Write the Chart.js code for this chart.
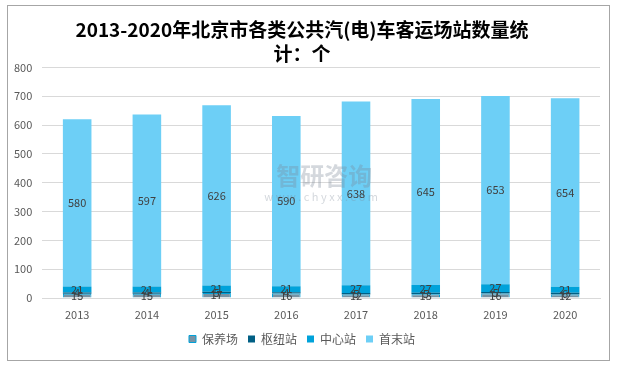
<!DOCTYPE html>
<html>
<head>
<meta charset="utf-8">
<script src="https://cdn.jsdelivr.net/npm/chart.js@4.4.0/dist/chart.umd.min.js"></script>
<style>
  body { margin: 0; background: #fff; }
  .frame { position: absolute; left: 7px; top: 5px; width: 601px; height: 354px; border: 1px solid #a6a6a6; }
  canvas { position: absolute; left: 0; top: 0; }
</style>
</head>
<body>
<div class="frame"></div>
<canvas class="main-canvas" width="620" height="366"></canvas>
<script>
const years = ["2013", "2014", "2015", "2016", "2017", "2018", "2019", "2020"];
const baoyang = [15, 15, 17, 16, 12, 13, 16, 12];
const shuniu = [4, 4, 5, 4, 5, 5, 5, 6];
const zhongxin = [21, 21, 21, 21, 27, 27, 27, 21];
const shoumo = [580, 597, 626, 590, 638, 645, 653, 654];
const yTicks = [0, 100, 200, 300, 400, 500, 600, 700, 800];

const FONT = "'Noto Sans CJK SC', 'Noto Sans', sans-serif";

// faint watermark + value labels in the middle of each segment
const valueLabels = {
  id: "valueLabels",
  afterDatasetsDraw(chart) {
    const ctx = chart.ctx;
    const area = chart.chartArea;
    const cx = (area.left + area.right) / 2;
    ctx.save();
    ctx.fillStyle = "rgba(120, 135, 150, 0.32)";
    ctx.textAlign = "center";
    ctx.textBaseline = "middle";
    ctx.font = "bold 24px " + FONT;
    ctx.fillText("智研咨询", cx + 3, 176);
    ctx.font = "11px " + FONT;
    ctx.fillText("w w w . c h y x x . c o m", cx, 197);

    ctx.font = "11px " + FONT;
    ctx.fillStyle = "#404040";
    chart.data.datasets.forEach((ds, i) => {
      const meta = chart.getDatasetMeta(i);
      meta.data.forEach((bar, j) => {
        const y = (bar.y + bar.base) / 2;
        ctx.fillText(ds.data[j], bar.x, y);
      });
    });
    ctx.restore();
  }
};

const ctx = document.querySelector(".main-canvas").getContext("2d");

new Chart(ctx, {
  type: "bar",
  data: {
    labels: years,
    datasets: [
      { label: "保养场", data: baoyang, backgroundColor: "#7893a4", borderColor: "#00a2da", borderWidth: 1 },
      { label: "枢纽站", data: shuniu, backgroundColor: "#005f84" },
      { label: "中心站", data: zhongxin, backgroundColor: "#00a2da" },
      { label: "首末站", data: shoumo, backgroundColor: "#6dcff6" },
    ],
  },
  options: {
    responsive: false,
    animation: false,
    layout: { padding: { left: 4, right: 20, top: 0, bottom: 11 } },
    datasets: { bar: { categoryPercentage: 0.41, barPercentage: 1 } },
    plugins: {
      title: {
        display: true,
        text: ["2013-2020年北京市各类公共汽(电)车客运场站数量统", "计：个"],
        color: "#000",
        font: { size: 19, weight: "bold", family: FONT, lineHeight: 1.3 },
        padding: { top: 17, bottom: 1 },
      },
      legend: {
        position: "bottom",
        labels: {
          color: "#595959",
          font: { size: 12, family: FONT },
          boxWidth: 7,
          boxHeight: 7,
          padding: 10,
        },
      },
      tooltip: { enabled: false },
    },
    scales: {
      x: {
        stacked: true,
        ticks: { color: "#595959", font: { size: 11, family: FONT, lineHeight: 1 } },
        grid: { display: false },
        border: { color: "#d9d9d9" },
      },
      y: {
        stacked: true,
        min: 0,
        max: 800,
        afterBuildTicks: (axis) => { axis.ticks = yTicks.map(v => ({ value: v })); },
        ticks: { color: "#595959", font: { size: 11, family: FONT }, padding: 10 },
        grid: { color: "#d9d9d9", drawTicks: false },
        border: { display: false },
      },
    },
  },
  plugins: [valueLabels],
});
</script>
</body>
</html>
